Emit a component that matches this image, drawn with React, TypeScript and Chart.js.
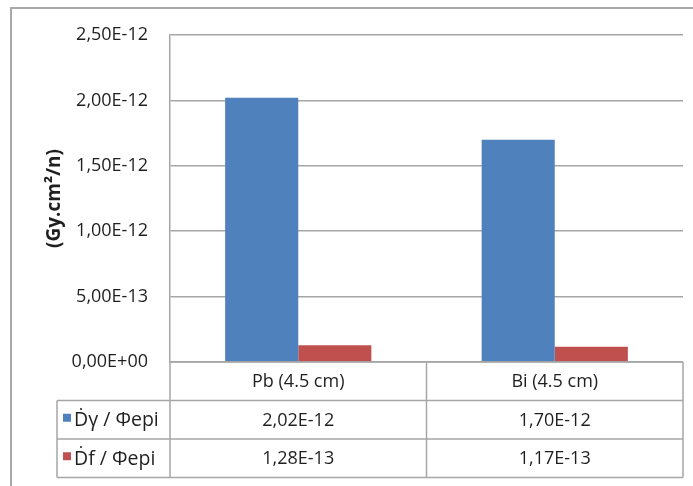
import React, { useEffect, useRef } from "react";
import { Chart, registerables } from "chart.js";

Chart.register(...registerables);

const categories = ["Pb (4.5 cm)", "Bi (4.5 cm)"];
const seriesNames = ["Ḋγ / Φepi", "Ḋf / Φepi"];
const gammaValues = [2.02e-12, 1.7e-12];
const fastValues = [1.28e-13, 1.17e-13];
const yTickValues = [0, 5e-13, 1e-12, 1.5e-12, 2e-12, 2.5e-12];
const seriesColors = ["#4F81BD", "#C0504D"];
const yTitle = "(Gy.cm²/n)";

const FONT = "'Open Sans', 'Liberation Sans', sans-serif";
const TEXT = "#1f1f1f";
const LINE = "#A6A6A6";

function fmtSci(v: number): string {
  if (Math.abs(v) < 1e-30) return "0,00E+00";
  const [m, e] = v.toExponential(2).split("e");
  const exp = parseInt(e, 10);
  const sign = exp < 0 ? "-" : "+";
  const abs = Math.abs(exp).toString().padStart(2, "0");
  return m.replace(".", ",") + "E" + sign + abs;
}

const framePlugin = {
  id: "frame",
  beforeDraw(chart: any) {
    const { ctx, width, height } = chart;
    ctx.save();
    ctx.fillStyle = "#ffffff";
    ctx.fillRect(0, 0, width, height);
    ctx.strokeStyle = "#A8A8A8";
    ctx.lineWidth = 2;
    ctx.beginPath();
    ctx.moveTo(11, height);
    ctx.lineTo(11, 8);
    ctx.lineTo(width, 8);
    ctx.stroke();
    ctx.restore();
  },
};

const tablePlugin = {
  id: "dataTable",
  afterDraw(chart: any) {
    const { ctx, chartArea } = chart;
    const xs = chart.scales.x;
    const left = chartArea.left;
    const right = chartArea.right;
    const top = chartArea.bottom;
    const rowH = 38.5;
    const legendLeft = left - 113;
    const catW = (right - left) / categories.length;
    const bottom = top + rowH * 3;

    ctx.save();
    ctx.strokeStyle = LINE;
    ctx.lineWidth = 1.5;
    ctx.beginPath();
    ctx.moveTo(left, top);
    ctx.lineTo(right, top);
    for (let r = 1; r <= 3; r++) {
      ctx.moveTo(legendLeft, top + rowH * r);
      ctx.lineTo(right, top + rowH * r);
    }
    ctx.moveTo(legendLeft, top + rowH);
    ctx.lineTo(legendLeft, bottom);
    ctx.moveTo(left, top);
    ctx.lineTo(left, bottom);
    for (let i = 1; i <= categories.length; i++) {
      ctx.moveTo(left + catW * i, top);
      ctx.lineTo(left + catW * i, bottom);
    }
    ctx.stroke();

    ctx.textBaseline = "middle";
    ctx.fillStyle = TEXT;
    ctx.textAlign = "center";
    ctx.font = "18px " + FONT;
    categories.forEach((c, i) => {
      ctx.fillText(c, xs.getPixelForValue(i), top + rowH / 2 + 1);
    });
    const rows = [gammaValues, fastValues];
    rows.forEach((vals, r) => {
      const cy = top + rowH * (r + 1) + rowH / 2 + 1;
      ctx.font = "18px " + FONT;
      ctx.fillStyle = TEXT;
      ctx.textAlign = "center";
      vals.forEach((v, i) => {
        ctx.fillText(fmtSci(v), xs.getPixelForValue(i), cy);
      });
      ctx.fillStyle = seriesColors[r];
      ctx.fillRect(legendLeft + 6, cy - 7, 8, 8);
      ctx.fillStyle = TEXT;
      ctx.textAlign = "left";
      ctx.font = "19.5px " + FONT;
      ctx.fillText(seriesNames[r], legendLeft + 17, cy);
    });
    ctx.restore();
  },
};

export default function App() {
  const ref = useRef<HTMLCanvasElement | null>(null);

  useEffect(() => {
    if (!ref.current) return;
    const chart = new Chart(ref.current, {
      type: "bar",
      data: {
        labels: categories,
        datasets: [
          {
            label: seriesNames[0],
            data: gammaValues,
            backgroundColor: seriesColors[0],
            borderWidth: 0,
            categoryPercentage: 0.57,
            barPercentage: 1,
          },
          {
            label: seriesNames[1],
            data: fastValues,
            backgroundColor: seriesColors[1],
            borderWidth: 0,
            categoryPercentage: 0.57,
            barPercentage: 1,
          },
        ],
      },
      options: {
        responsive: false,
        animation: false,
        layout: { padding: { left: 0, top: 35, right: 10, bottom: 124 } },
        plugins: {
          legend: { display: false },
          tooltip: { enabled: false },
        },
        scales: {
          x: {
            type: "category",
            display: false,
          },
          y: {
            type: "linear",
            min: 0,
            max: 2.5e-12,
            afterBuildTicks: (s: any) => {
              s.ticks = yTickValues.map((v) => ({ value: v }));
            },
            afterFit: (s: any) => {
              s.width = 170;
            },
            grid: {
              color: LINE,
              lineWidth: 1.5,
              drawTicks: false,
            },
            border: { display: true, color: LINE, width: 1.5 },
            ticks: {
              padding: 22,
              color: TEXT,
              font: { family: FONT, size: 18 },
              callback: (v: any) => fmtSci(Number(v)),
            },
            title: {
              display: true,
              text: yTitle,
              color: TEXT,
              font: { family: FONT, size: 19, weight: "bold" },
              padding: { top: 43, bottom: 0 },
            },
          },
        },
      },
      plugins: [framePlugin, tablePlugin],
    });
    return () => chart.destroy();
  }, []);

  return (
    <div style={{ position: "absolute", left: 0, top: 0, width: 693, height: 486 }}>
      <canvas ref={ref} width={693} height={486} style={{ display: "block" }} />
    </div>
  );
}
